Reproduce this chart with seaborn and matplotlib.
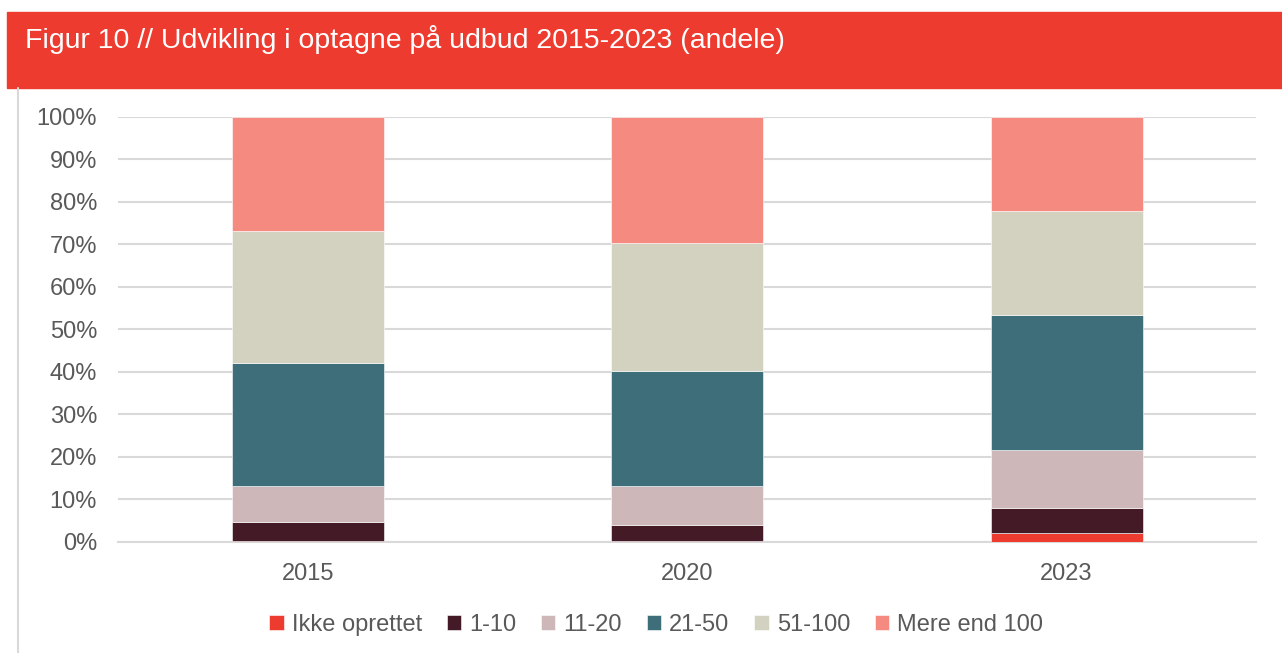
import matplotlib
matplotlib.use("Agg")
import matplotlib.pyplot as plt
from matplotlib.patches import Rectangle
from matplotlib.lines import Line2D
import numpy as np
import seaborn as sns

# Shares per year (percent)
years = ["2015", "2020", "2023"]
categories = ["Ikke oprettet", "1-10", "11-20", "21-50", "51-100", "Mere end 100"]
ikke_oprettet = [0.3, 0.2, 2.0]
seg_1_10 = [4.5, 3.8, 6.0]
seg_11_20 = [8.3, 9.2, 13.7]
seg_21_50 = [29.0, 27.0, 31.7]
seg_51_100 = [31.1, 30.2, 24.5]
mere_end_100 = [26.8, 29.6, 22.1]

colors = ["#EE3B2F", "#431A26", "#CDB7B9", "#3D6E79", "#D3D2C0", "#F48A80"]
series = [ikke_oprettet, seg_1_10, seg_11_20, seg_21_50, seg_51_100, mere_end_100]

sns.set_theme(style="white")
plt.rcParams["font.family"] = ["Liberation Sans", "DejaVu Sans"]
text_col = "#595959"

fig = plt.figure(figsize=(12.82, 6.53), dpi=100)
ax = fig.add_axes([0.092, 0.17, 0.888, 0.651])

bottom = np.zeros(len(years))
for name, vals, col in zip(categories, series, colors):
    sns.barplot(x=years, y=vals, bottom=bottom, color=col, width=0.4, saturation=1,
                label=name, ax=ax, edgecolor="white", linewidth=0.4, zorder=3)
    bottom += np.array(vals)

ax.set_ylim(0, 100)
ax.set_xlim(-0.5, 2.5)
ax.set_yticks(np.arange(0, 101, 10))
ax.set_yticklabels([f"{v}%" for v in range(0, 101, 10)])
ax.yaxis.grid(True, color="#D9D9D9", linewidth=1.5, zorder=0)
ax.set_axisbelow(True)
ax.tick_params(axis="both", labelsize=17, colors=text_col, length=0)
ax.tick_params(axis="y", pad=15)
ax.tick_params(axis="x", pad=15)
ax.set_xlabel("")
ax.set_ylabel("")
for s in ["top", "right", "left"]:
    ax.spines[s].set_visible(False)
ax.spines["bottom"].set_color("#D9D9D9")
ax.spines["bottom"].set_linewidth(1.5)

leg = ax.legend(loc="upper center", bbox_to_anchor=(0.473, -0.12), ncol=6,
                frameon=False, fontsize=17, handlelength=0.6, handleheight=0.6,
                handletextpad=0.35, columnspacing=1.05, labelcolor=text_col)

# red header band with title
fig.patches.append(Rectangle((7 / 1282, 1 - 88 / 653), 1 - 7 / 1282, 76 / 653,
                             transform=fig.transFigure, color="#EE3B2F", zorder=0))
fig.text(25 / 1282, 1 - 40 / 653, "Figur 10 // Udvikling i optagne på udbud 2015-2023 (andele)",
         color="white", fontsize=20.5, va="center", ha="left")
fig.lines.append(Line2D([18 / 1282, 18 / 1282], [0, 1 - 88 / 653],
                        transform=fig.transFigure, color="#D9D9D9", linewidth=1.5))

fig.savefig("out.png", dpi=100)
